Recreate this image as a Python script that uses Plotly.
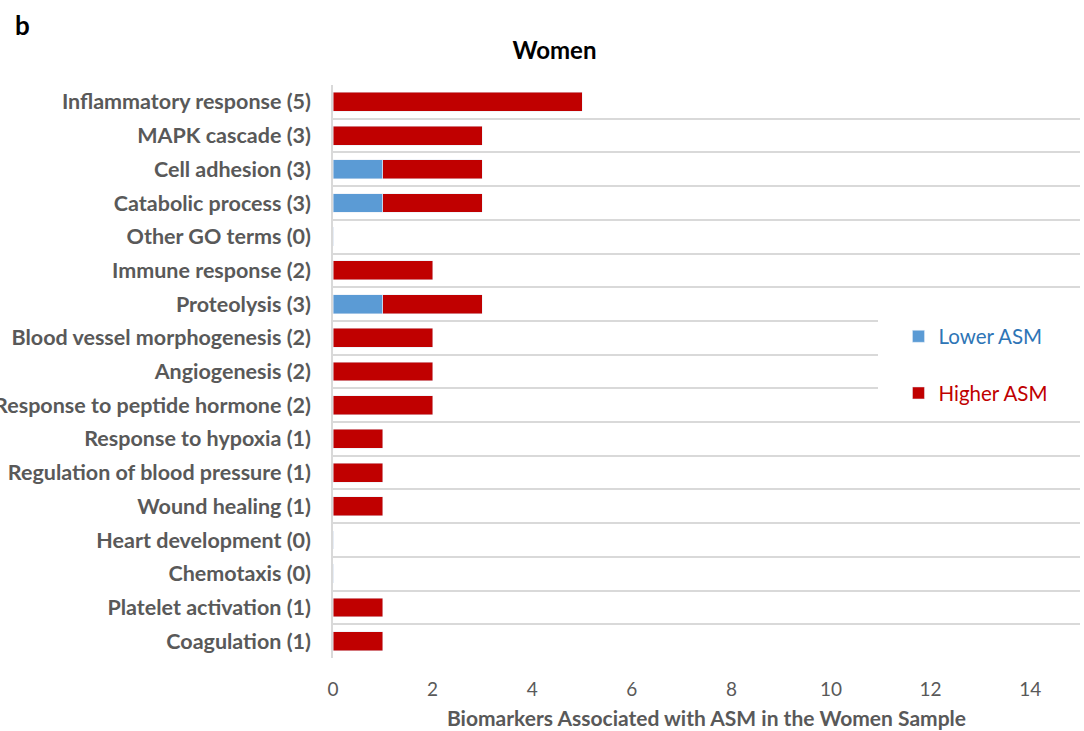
import plotly.graph_objects as go

categories = [
    "Inflammatory response (5)", "MAPK cascade (3)", "Cell adhesion (3)",
    "Catabolic process (3)", "Other GO terms (0)", "Immune response (2)",
    "Proteolysis (3)", "Blood vessel morphogenesis (2)", "Angiogenesis (2)",
    "Response to peptide hormone (2)", "Response to hypoxia (1)",
    "Regulation of blood pressure (1)", "Wound healing (1)",
    "Heart development (0)", "Chemotaxis (0)", "Platelet activation (1)",
    "Coagulation (1)",
]
lower_asm = [0, 0, 1, 1, 0, 0, 1, 0, 0, 0, 0, 0, 0, 0, 0, 0, 0]
higher_asm = [5, 3, 2, 2, 0, 2, 2, 2, 2, 2, 1, 1, 1, 0, 0, 1, 1]
x_ticks = [0, 2, 4, 6, 8, 10, 12, 14]

FONT = "Lato"
GRAY = "#595959"

fig = go.Figure()
fig.add_trace(go.Bar(
    y=categories, x=lower_asm, orientation="h",
    name="<span style='color:#2E75B6'>Lower ASM</span>",
    marker=dict(color="#5B9BD5"), width=0.56, legendgroup="a",
))
fig.add_trace(go.Bar(
    y=categories, x=higher_asm, orientation="h",
    name="<span style='color:#C00000'>Higher ASM</span>",
    marker=dict(color="#C00000"), width=0.56, legendgroup="b",
))

fig.update_layout(
    barmode="stack",
    width=1084, height=731,
    paper_bgcolor="white", plot_bgcolor="white",
    margin=dict(l=333, r=4, t=85, b=73, autoexpand=False),
    font=dict(family=FONT, color=GRAY),
    title=dict(text="<b>Women</b>", x=0.5115, xanchor="center", y=0.931, yanchor="middle",
               font=dict(size=24, color="black", family=FONT)),
    legend=dict(x=0.757, y=0.596, xanchor="left", yanchor="top",
                bgcolor="rgba(0,0,0,0)", font=dict(size=20.5, family=FONT),
                traceorder="grouped", tracegroupgap=27,
                itemwidth=30),
    shapes=[dict(type="rect", xref="paper", yref="paper",
                 x0=(878 - 333) / 747, x1=1.0,
                 y0=(658 - 410) / 573, y1=(658 - 315) / 573,
                 fillcolor="white", line=dict(width=0), layer="above")],
    annotations=[dict(text="<b>b</b>", xref="paper", yref="paper", x=-0.415, y=1.105,
                      xanchor="center", yanchor="middle", showarrow=False,
                      font=dict(size=26, color="black", family=FONT))],
    bargap=0.44,
)
fig.update_yaxes(
    type="category", autorange="reversed", tickson="boundaries", automargin=False,
    showgrid=True, gridcolor="#D9D9D9", gridwidth=1.5,
    showline=True, linecolor="#D9D9D9", linewidth=1.5,
    ticks="", ticklabelstandoff=16,
    tickfont=dict(size=21.5, family=FONT, color=GRAY, weight="bold"),
)
fig.update_xaxes(
    range=[0, 15], tickvals=x_ticks, showgrid=False, zeroline=False, automargin=False,
    showline=False, ticks="", ticklabelstandoff=18,
    tickfont=dict(size=19, family=FONT, color=GRAY),
    title=dict(text="<b>Biomarkers Associated with ASM in the Women Sample</b>",
               font=dict(size=21, family=FONT, color=GRAY), standoff=12),
)
fig.write_html(
    "out.html",
    config={"displayModeBar": False},
    post_script="document.body.style.margin='0';document.body.style.overflow='hidden';",
)
